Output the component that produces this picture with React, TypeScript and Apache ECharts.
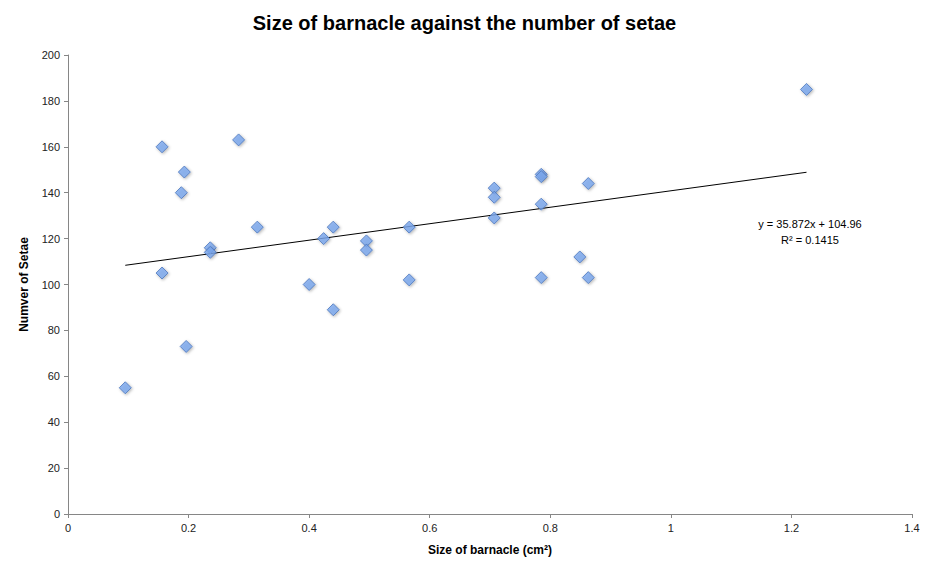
import React, { useEffect, useRef } from "react";
import * as echarts from "echarts";

const sizes = [
  0.095, 0.156, 0.156, 0.193, 0.188, 0.196, 0.236, 0.236, 0.283, 0.314,
  0.4, 0.424, 0.44, 0.44, 0.495, 0.495, 0.566, 0.566, 0.707, 0.707,
  0.707, 0.785, 0.785, 0.785, 0.785, 0.849, 0.863, 0.863, 1.225,
];
const setae = [
  55, 160, 105, 149, 140, 73, 116, 114, 163, 125,
  100, 120, 125, 89, 119, 115, 125, 102, 142, 138,
  129, 148, 147, 135, 103, 112, 144, 103, 185,
];
const slope = 35.872;
const intercept = 104.96;
const rSquared = 0.1415;
const xTicks = { min: 0, max: 1.4, interval: 0.2 };
const yTicks = { min: 0, max: 200, interval: 20 };

const FONT = "'Liberation Sans', 'DejaVu Sans', sans-serif";

export default function App() {
  const ref = useRef<HTMLDivElement>(null);
  useEffect(() => {
    if (!ref.current) return;
    const chart = echarts.init(ref.current, undefined, { renderer: "svg" });
    const points = sizes.map((x, i) => [x, setae[i]]);
    const xMin = Math.min(...sizes);
    const xMax = Math.max(...sizes);
    const trend = [
      [xMin, slope * xMin + intercept],
      [xMax, slope * xMax + intercept],
    ];
    chart.setOption({
      animation: false,
      backgroundColor: "#ffffff",
      title: {
        text: "Size of barnacle against the number of setae",
        left: "center",
        top: 8,
        textStyle: { fontFamily: FONT, fontSize: 20, fontWeight: "bold", color: "#000" },
      },
      grid: { left: 68, right: 17, top: 55, bottom: 56 },
      xAxis: {
        type: "value",
        min: xTicks.min,
        max: xTicks.max,
        interval: xTicks.interval,
        name: "Size of barnacle (cm²)",
        nameLocation: "middle",
        nameGap: 30,
        nameTextStyle: { fontFamily: FONT, fontSize: 12, fontWeight: "bold", color: "#000" },
        axisLine: { lineStyle: { color: "#868686" } },
        axisTick: { show: true, length: 4, lineStyle: { color: "#868686" } },
        axisLabel: { fontFamily: FONT, fontSize: 11, color: "#222", margin: 8 },
        splitLine: { show: false },
      },
      yAxis: {
        type: "value",
        min: yTicks.min,
        max: yTicks.max,
        interval: yTicks.interval,
        name: "Numver of Setae",
        nameLocation: "middle",
        nameGap: 38,
        nameRotate: 90,
        nameTextStyle: { fontFamily: FONT, fontSize: 12, fontWeight: "bold", color: "#000" },
        axisLine: { show: true, lineStyle: { color: "#868686" } },
        axisTick: { show: true, length: 4, lineStyle: { color: "#868686" } },
        axisLabel: { fontFamily: FONT, fontSize: 11, color: "#222", margin: 8 },
        splitLine: { show: false },
      },
      series: [
        {
          type: "line",
          data: trend,
          symbol: "none",
          lineStyle: { color: "#000", width: 1 },
          silent: true,
          z: 1,
        },
        {
          type: "scatter",
          data: points,
          symbol: "diamond",
          symbolSize: 12,
          itemStyle: {
            color: "#7ba7ee",
            borderColor: "#4a76bd",
            borderWidth: 1,
            shadowBlur: 3,
            shadowColor: "rgba(0,0,0,0.35)",
            shadowOffsetX: 1,
            shadowOffsetY: 1,
          },
          z: 2,
        },
      ],
      graphic: [
        {
          type: "text",
          x: 810,
          y: 216,
          style: {
            text: `y = ${slope}x + ${intercept}\nR² = ${rSquared}`,
            fontFamily: FONT,
            fontSize: 11,
            fill: "#000",
            align: "center",
            verticalAlign: "top",
            lineHeight: 16,
          },
        },
      ],
    });
    return () => chart.dispose();
  }, []);
  return <div ref={ref} style={{ width: 929, height: 570, position: "absolute", left: 0, top: 0 }} />;
}
